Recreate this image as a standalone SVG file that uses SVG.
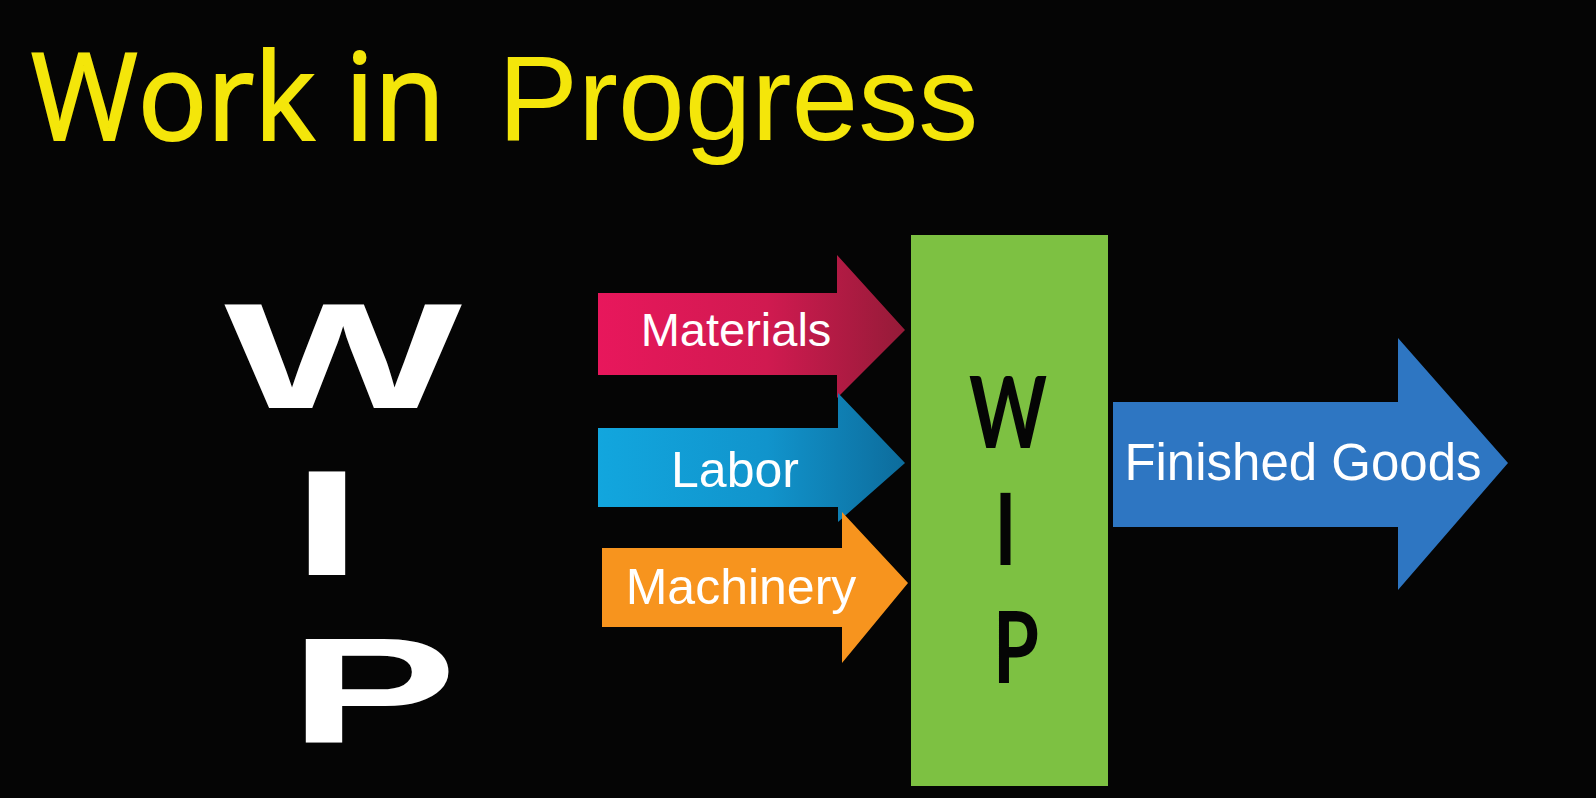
<svg xmlns="http://www.w3.org/2000/svg" width="1596" height="798" viewBox="0 0 1596 798">
<defs>
<linearGradient id="gMat" x1="598" y1="0" x2="905" y2="0" gradientUnits="userSpaceOnUse">
<stop offset="0" stop-color="#E8175C"/><stop offset="0.55" stop-color="#D01A50"/><stop offset="1" stop-color="#951B38"/>
</linearGradient>
<linearGradient id="gLab" x1="598" y1="0" x2="905" y2="0" gradientUnits="userSpaceOnUse">
<stop offset="0" stop-color="#12A6DE"/><stop offset="0.55" stop-color="#1194CC"/><stop offset="1" stop-color="#0D6C9C"/>
</linearGradient>
<style>
.lbl{font-family:"Liberation Sans",Arial,sans-serif;fill:#ffffff;text-anchor:middle}
.big{font-family:"Liberation Sans",Arial,sans-serif;font-weight:bold;font-size:150px;fill:#ffffff}
.box{font-family:Lato,"Liberation Sans",sans-serif;font-weight:700;font-size:99px;fill:#050505}
</style>
</defs>
<rect x="0" y="0" width="1596" height="798" fill="#050505"/>
<g id="title">
<text y="140" font-size="120" fill="#F4E60A"><tspan x="31" font-family="'Open Sans',sans-serif" stroke="#F4E60A" stroke-width="2.2" textLength="414" lengthAdjust="spacingAndGlyphs">Work in</tspan><tspan x="498" font-family="'Liberation Sans',Arial,sans-serif">Progress</tspan></text>
</g>
<g id="wip-big">
<text class="big" transform="scale(1.68,1)"><tspan x="133.5" y="408">W</tspan><tspan x="173.8" y="575">I</tspan><tspan x="172" y="742">P</tspan></text>
</g>
<g id="connectors">
<g id="materials">
<path d="M598,293 H837 V255 L905,330 L837,398 V375 H598 Z" fill="url(#gMat)"/>
<text class="lbl" x="736" y="346" font-size="47">Materials</text>
</g>
<g id="labor">
<path d="M598,428 H838 V393 L905,463 L838,522 V507 H598 Z" fill="url(#gLab)"/>
<text class="lbl" x="735" y="487" font-size="50">Labor</text>
</g>
<g id="machinery">
<path d="M602,548 H842 V512 L908,583 L842,663 V627 H602 Z" fill="#F7941E"/>
<text class="lbl" x="741" y="604" font-size="50">Machinery</text>
</g>
<g id="finished">
<path d="M1113,402 H1398 V338 L1508,463 L1398,590 V527 H1113 Z" fill="#2E76C2"/>
<text class="lbl" x="1303" y="480" font-size="51">Finished Goods</text>
</g>
</g>
<g id="wip-box">
<rect x="911" y="235" width="197" height="551" fill="#7DC142"/>
<text class="box" transform="scale(0.75,1)"><tspan x="1344" y="448" text-anchor="middle">W</tspan><tspan x="1326" y="565">I</tspan><tspan x="1324" y="683">P</tspan></text>
</g>
</svg>
